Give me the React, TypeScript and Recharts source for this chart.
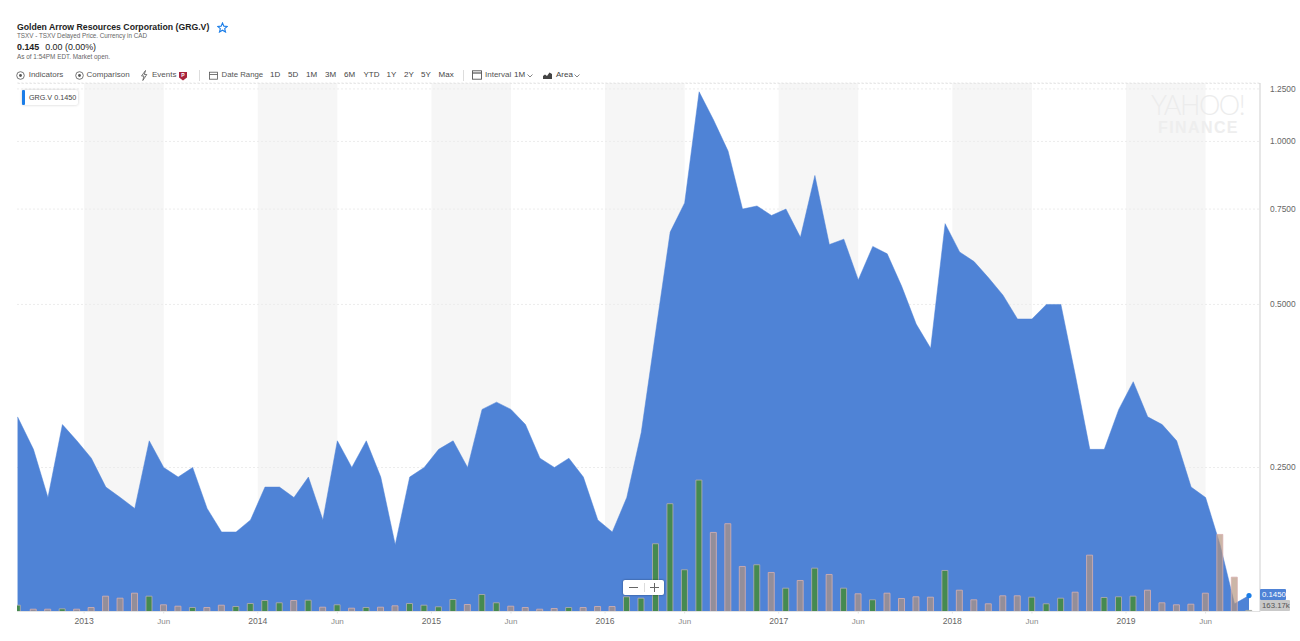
import React from "react";
import { ComposedChart, Area, Bar, Cell, XAxis, YAxis, CartesianGrid, ReferenceArea, ReferenceDot, ReferenceLine } from "recharts";

const prices = [
  0.31, 0.27, 0.22, 0.30, 0.28, 0.26, 0.23, 0.22, 0.21, 0.28, 0.25, 0.24, 0.25, 0.21, 0.19, 0.19, 0.20, 0.23, 0.23, 0.22, 0.24,
  0.20, 0.28, 0.25, 0.28, 0.24, 0.18, 0.24, 0.25, 0.27, 0.28, 0.25, 0.32, 0.33, 0.32, 0.30, 0.26, 0.25, 0.26, 0.24, 0.20, 0.19,
  0.22, 0.29, 0.445, 0.68, 0.77, 1.235, 1.095, 0.96, 0.75, 0.76, 0.73, 0.75, 0.665, 0.865, 0.645, 0.66, 0.555, 0.64, 0.62, 0.54,
  0.46, 0.415, 0.705, 0.625, 0.60, 0.56, 0.52, 0.47, 0.47, 0.50, 0.50, 0.37, 0.27, 0.27, 0.32, 0.36, 0.31, 0.30, 0.28, 0.23,
  0.22, 0.18, 0.14, 0.145,
];
const volumes = [
  945, 345, 345, 405, 345, 600, 2295, 1995, 2745, 2295, 1005, 795, 600, 600, 945, 750, 1200, 1650, 1305, 1650, 1695,
  645, 1005, 495, 600, 645, 855, 1200, 945, 705, 1800, 1050, 2550, 1305, 795, 600, 345, 450, 600, 600, 750, 750,
  2205, 1995, 10155, 16155, 6255, 19695, 11850, 13155, 6750, 7005, 5850, 3495, 4650, 6495, 5550, 3495, 2655, 1755, 2745, 1950,
  2205, 2145, 6150, 3195, 1755, 1155, 2355, 2355, 2145, 1155, 1995, 2895, 8445, 2100, 2205, 2295, 3195, 1305, 1005, 1095,
  2745, 11550, 5145, 163.17,
];
const directions =
  "UDDUDDDDDU" + "DDUDDUUUUD" + "UDUDUDDUUU" + "UDUUDDDDUD" + "DDUUUUUUDD" +
  "DUDUDUDUDU" + "DDDDUDDDDD" + "UUUDDUUUDD" + "DDDDDU";

const rows = prices.map((price, i) => ({ month: i === 0 ? -0.1 : i, price, volume: volumes[i], up: directions[i] === "U" }));

const tickPositions = [4.5, 10, 16.5, 22, 28.5, 34, 40.5, 46, 52.5, 58, 64.5, 70, 76.5, 82];
const tickLabels = ["2013", "Jun", "2014", "Jun", "2015", "Jun", "2016", "Jun", "2017", "Jun", "2018", "Jun", "2019", "Jun"];
const priceTicks = [0.25, 0.5, 0.75, 1, 1.25];
const shadedStarts = [4.5, 16.5, 28.5, 40.5, 52.5, 64.5, 76.5];
const shadedEnds = [10, 22, 34, 46, 58, 70, 82];
const rangeButtons: [string, number][] = [["1D", 270], ["5D", 288], ["1M", 306], ["3M", 325], ["6M", 344], ["YTD", 363.5], ["1Y", 386.5], ["2Y", 404], ["5Y", 421], ["Max", 438.6]];

const FONT = "'Liberation Sans', Arial, sans-serif";

function XTick(props: any) {
  const { x, y, payload } = props;
  const idx = tickPositions.indexOf(payload.value);
  const label = tickLabels[idx];
  const isYear = label !== "Jun";
  return (
    <text x={x} y={y + 8.5} textAnchor="middle" fontFamily={FONT} fontSize={isYear ? 8.6 : 8} fill={isYear ? "#666" : "#8a8a8a"}>
      {label}
    </text>
  );
}

function YTick(props: any) {
  const { x, y, payload } = props;
  return (
    <text x={x} y={y + 3} fontFamily={FONT} fontSize={8.4} fill="#666">
      {Number(payload.value).toFixed(4)}
    </text>
  );
}

const T = ({ x, y, size = 8, color = "#555", weight = 400, children }: any) => (
  <div style={{ position: "absolute", left: x, top: y, fontSize: size, color, fontWeight: weight, lineHeight: 1, whiteSpace: "nowrap" }}>{children}</div>
);

const Circle = ({ x }: any) => (
  <svg style={{ position: "absolute", left: x, top: 71 }} width="9" height="9" viewBox="0 0 9 9">
    <circle cx="4.5" cy="4.5" r="3.8" fill="none" stroke="#555" strokeWidth="0.8" />
    <circle cx="4.5" cy="4.5" r="1.4" fill="#555" />
  </svg>
);

export default function App() {
  return (
    <div style={{ position: "absolute", left: 0, top: 0, width: 1300, height: 641, background: "#fff", overflow: "hidden", fontFamily: FONT }}>
      <ComposedChart width={1300} height={641} data={rows} margin={{ top: 83, right: 0, bottom: 0, left: 17 }}>
        {shadedStarts.map((s, k) => (
          <ReferenceArea key={s} yAxisId="p" x1={s} x2={shadedEnds[k]} y1={0.1355} y2={1.282} fill="#f6f6f6" fillOpacity={1} stroke="none" zIndex={-200} />
        ))}
        <CartesianGrid horizontal vertical={false} stroke="#ececec" strokeDasharray="2 2" yAxisId="p" />
        <ReferenceLine yAxisId="p" y={1.28} stroke="#e6e6e6" strokeDasharray="2 2" />
        <XAxis
          dataKey="month"
          type="number"
          domain={[-0.138, 85.76]}
          ticks={tickPositions}
          interval={0}
          height={29.5}
          stroke="#e2e2e2"
          tickSize={2}
          tick={<XTick />}
          allowDataOverflow
        />
        <YAxis
          yAxisId="p"
          orientation="right"
          scale="log"
          domain={[0.1355, 1.282]}
          ticks={priceTicks}
          interval={0}
          width={40}
          allowDataOverflow
          stroke="#cfcfcf"
          tickLine={false}
          tick={<YTick />}
          tickMargin={4}
        />
        <YAxis yAxisId="v" hide domain={[0, 79200]} />
        <Area yAxisId="p" dataKey="price" type="linear" fill="#4f83d6" fillOpacity={1} stroke="#4f83d6" strokeWidth={0.5} dot={false} activeDot={false} baseValue={0.1355} isAnimationActive={false} />
        <Bar yAxisId="v" dataKey="volume" barSize={6} isAnimationActive={false}>
          {rows.map((r, i) =>
            r.up ? (
              <Cell key={i} fill="#458a50" stroke="#b7aeb0" strokeWidth={1} strokeOpacity={0.8} />
            ) : (
              <Cell key={i} fill="rgb(180,148,125)" fillOpacity={0.68} stroke="#d8b0b0" strokeWidth={1} strokeOpacity={0.8} />
            )
          )}
        </Bar>
        <ReferenceDot yAxisId="p" x={85} y={0.145} r={2.6} fill="#1a7de8" stroke="none" />
      </ComposedChart>

      <div style={{ position: "absolute", left: 1151, top: 91, fontSize: 27, letterSpacing: -1.5, color: "#ececec", fontFamily: "Lato, sans-serif", fontWeight: 300, lineHeight: 1 }}>YAHOO!</div>
      <div style={{ position: "absolute", left: 1158, top: 120, fontSize: 16, letterSpacing: 1.4, color: "#eeeeee", fontWeight: 700, lineHeight: 1 }}>FINANCE</div>

      <T x={17} y={22.5} size={8.7} color="#222" weight={700}>Golden Arrow Resources Corporation (GRG.V)</T>
      <svg style={{ position: "absolute", left: 217, top: 22 }} width="11" height="11" viewBox="0 0 24 24">
        <path d="M12 2l3 7 7.5.6-5.7 4.900 1.800 7.400L12 18l-6.600 3.900 1.800-7.400L1.500 9.600 9 9z" fill="none" stroke="#1a7de8" strokeWidth="2.400" />
      </svg>
      <T x={17} y={33} size={6.3} color="#666">TSXV - TSXV Delayed Price. Currency in CAD</T>
      <div style={{ position: "absolute", left: 17, top: 43, fontSize: 8.9, color: "#222", lineHeight: 1, whiteSpace: "nowrap" }}>
        <b>0.145</b>
        <span style={{ marginLeft: 6 }}>0.00 (0.00%)</span>
      </div>
      <T x={17} y={54} size={6.4} color="#666">As of 1:54PM EDT. Market open.</T>

      <Circle x={16} />
      <T x={28.7} y={71} color="#555">Indicators</T>
      <Circle x={75} />
      <T x={86.5} y={71} color="#555">Comparison</T>
      <svg style={{ position: "absolute", left: 140, top: 70 }} width="8" height="11" viewBox="0 0 8 11">
        <path d="M5.500 0.500L1.500 6H4L2.800 10.500L6.800 4.500H4.300z" fill="none" stroke="#555" strokeWidth="0.8" />
      </svg>
      <T x={152} y={71} color="#555">Events</T>
      <svg style={{ position: "absolute", left: 178, top: 71 }} width="10" height="10" viewBox="0 0 10 10">
        <path d="M1 1H9V6.500L5 9.500L1 6.500z" fill="#a8243c" />
        <text x="5" y="6" fontSize="5" fill="#fff" textAnchor="middle" fontFamily={FONT} fontWeight={700}>P</text>
      </svg>
      <div style={{ position: "absolute", left: 199, top: 70, width: 1, height: 11, background: "#ddd" }} />
      <svg style={{ position: "absolute", left: 209, top: 71 }} width="9" height="9" viewBox="0 0 9 9">
        <rect x="0.500" y="1.200" width="8" height="7" fill="none" stroke="#555" strokeWidth="0.8" />
        <line x1="0.500" x2="8.500" y1="3.500" y2="3.500" stroke="#555" strokeWidth="0.8" />
      </svg>
      <T x={221.6} y={71} color="#555" size={7.8}>Date Range</T>
      {rangeButtons.map(([label, x]) => (
        <T key={label} x={x} y={71} color="#444">{label}</T>
      ))}
      <div style={{ position: "absolute", left: 463, top: 70, width: 1, height: 11, background: "#ddd" }} />
      <svg style={{ position: "absolute", left: 472, top: 70 }} width="10" height="10" viewBox="0 0 10 10">
        <rect x="0.500" y="0.800" width="9" height="8.400" fill="none" stroke="#555" strokeWidth="0.9" />
        <line x1="0.500" x2="9.500" y1="3" y2="3" stroke="#555" strokeWidth="1.200" />
      </svg>
      <T x={485} y={71} color="#555">Interval</T>
      <T x={514} y={71} color="#444">1M</T>
      <svg style={{ position: "absolute", left: 527, top: 74 }} width="6" height="4" viewBox="0 0 6 4">
        <path d="M0.500 0.500L3 3L5.500 0.500" fill="none" stroke="#666" strokeWidth="0.8" />
      </svg>
      <svg style={{ position: "absolute", left: 543, top: 71 }} width="9" height="8" viewBox="0 0 9 8">
        <path d="M0 8V5L2 3.500L4 5L6.500 1.500L9 3V8z" fill="#444" />
      </svg>
      <T x={556} y={71} color="#444">Area</T>
      <svg style={{ position: "absolute", left: 574, top: 74 }} width="6" height="4" viewBox="0 0 6 4">
        <path d="M0.500 0.500L3 3L5.500 0.500" fill="none" stroke="#666" strokeWidth="0.8" />
      </svg>

      <div style={{ position: "absolute", left: 22, top: 90, width: 56, height: 15, background: "#fff", boxShadow: "0 0 3px rgba(0,0,0,0.2)", borderRadius: 2 }}>
        <div style={{ position: "absolute", left: 0, top: 0, width: 2.5, height: 15, background: "#1a7de8", borderRadius: 1 }} />
        <div style={{ position: "absolute", left: 7, top: 4, fontSize: 7.2, color: "#444", whiteSpace: "nowrap", lineHeight: 1 }}>GRG.V 0.1450</div>
      </div>

      <div style={{ position: "absolute", left: 623, top: 580, width: 41, height: 15, background: "#fff", borderRadius: 2, boxShadow: "0 0 2px rgba(0,0,0,0.5)" }}>
        <div style={{ position: "absolute", left: 6, top: 7, width: 9, height: 1, background: "#666" }} />
        <div style={{ position: "absolute", left: 21, top: 3, width: 1, height: 9, background: "#ddd" }} />
        <div style={{ position: "absolute", left: 27, top: 7, width: 9, height: 1, background: "#666" }} />
        <div style={{ position: "absolute", left: 31, top: 3, width: 1, height: 9, background: "#666" }} />
      </div>

      <div style={{ position: "absolute", left: 1260, top: 589, width: 26, height: 11, background: "#4f83d6", borderRadius: 1, color: "#fff", fontSize: 7.8, lineHeight: "11px", paddingLeft: 2, boxSizing: "border-box" }}>0.1450</div>
      <div style={{ position: "absolute", left: 1260, top: 600, width: 30, height: 11, background: "#c9c9c9", borderRadius: 1, color: "#555", fontSize: 7.8, lineHeight: "11px", paddingLeft: 2, boxSizing: "border-box" }}>163.17k</div>
    </div>
  );
}
